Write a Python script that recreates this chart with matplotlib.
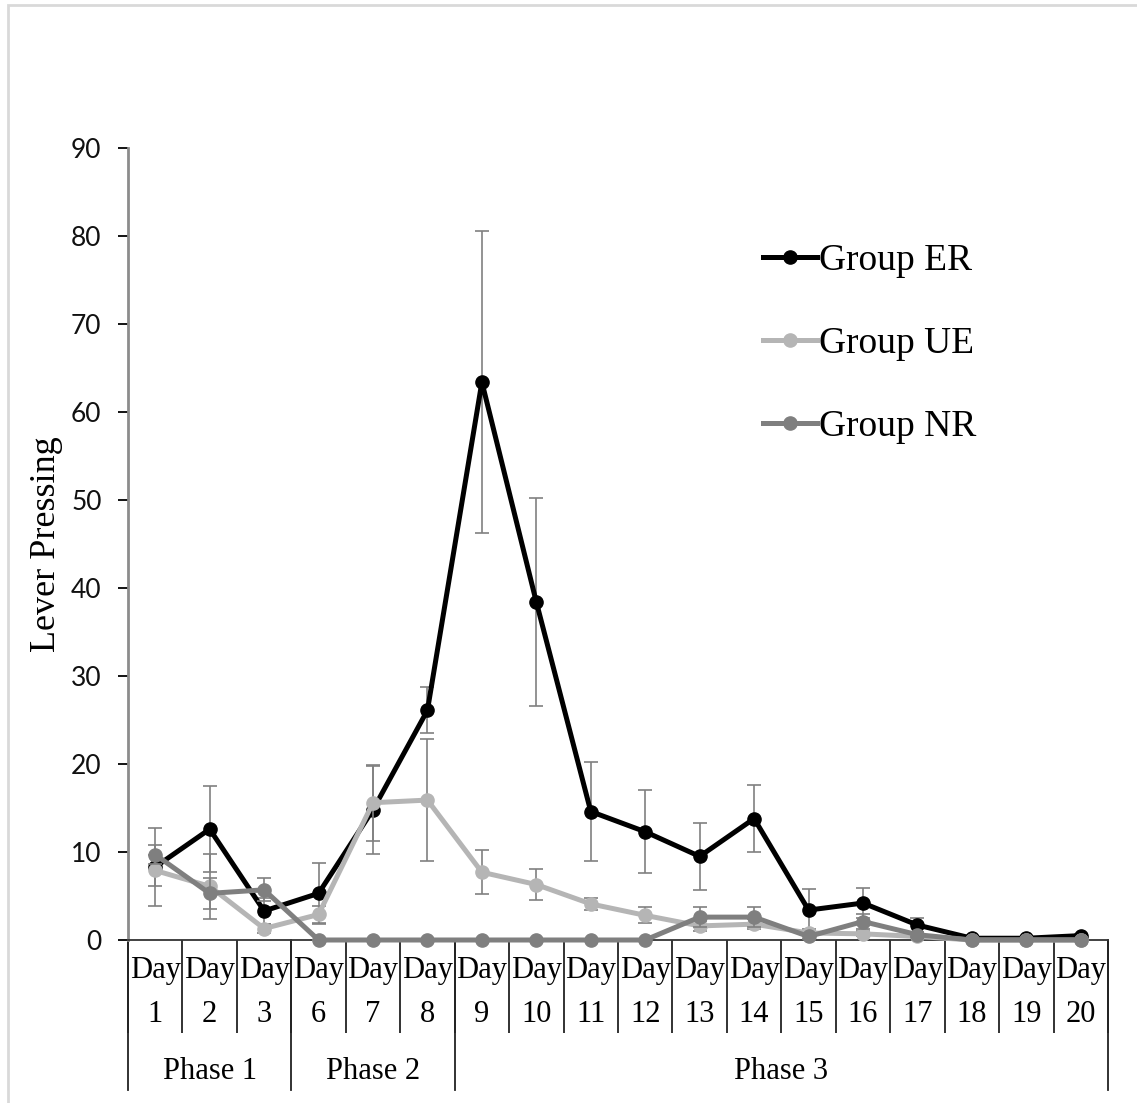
import numpy as np
import matplotlib
matplotlib.use("Agg")
import matplotlib.pyplot as plt
from matplotlib.patches import Rectangle
from matplotlib.transforms import blended_transform_factory

days = [1, 2, 3, 6, 7, 8, 9, 10, 11, 12, 13, 14, 15, 16, 17, 18, 19, 20]
phases = ["Phase 1", "Phase 2", "Phase 3"]
phase_sizes = [3, 3, 12]

er_mean = [8.3, 12.6, 3.3, 5.3, 14.8, 26.1, 63.4, 38.4, 14.6, 12.3, 9.5, 13.8, 3.4, 4.2, 1.7, 0.2, 0.2, 0.5]
er_err = [4.4, 4.9, 1.5, 3.5, 5.0, 2.6, 17.2, 11.8, 5.6, 4.7, 3.8, 3.8, 2.4, 1.7, 0.8, 0.1, 0.1, 0.2]

ue_mean = [7.9, 6.1, 1.3, 2.9, 15.6, 15.9, 7.7, 6.3, 4.1, 2.8, 1.6, 1.8, 0.8, 0.7, 0.4, 0.0, 0.0, 0.0]
ue_err = [1.8, 3.7, 0.5, 1.0, 4.3, 6.9, 2.5, 1.8, 0.7, 0.9, 0.6, 0.6, 0.4, 0.3, 0.2, 0.0, 0.0, 0.0]

nr_mean = [9.7, 5.3, 5.7, 0, 0, 0, 0, 0, 0, 0, 2.6, 2.6, 0.4, 2.1, 0.6, 0, 0, 0]
nr_err = [1.1, 1.8, 1.3, 0, 0, 0, 0, 0, 0, 0, 1.1, 1.1, 0.3, 0.8, 0.3, 0, 0, 0]

serif = "Liberation Serif"
sans = "Lato"

fig = plt.figure(figsize=(11.37, 11.03), dpi=100)
fig.patches.append(Rectangle((8 / 1137, -0.1), 1.2, 1.1 - 4.5 / 1103, transform=fig.transFigure,
                             fill=False, edgecolor="#d9d9d9", linewidth=2))
ax = fig.add_axes([128 / 1137, 163 / 1103, 980 / 1137, 792 / 1103])

x = np.arange(len(days))
series = [
    ("Group ER", er_mean, er_err, "#000000"),
    ("Group UE", ue_mean, ue_err, "#b5b5b5"),
    ("Group NR", nr_mean, nr_err, "#7f7f7f"),
]
handles = []
for z, (name, m, e, c) in enumerate(series):
    ax.errorbar(x, m, yerr=e, fmt="none", ecolor="#808080", elinewidth=1.2,
                capsize=5, capthick=1.2, zorder=2 + 2 * z, clip_on=False)
    h, = ax.plot(x, m, color=c, lw=3.6, marker="o", ms=9.5, label=name,
                 zorder=3 + 2 * z, clip_on=False)
    handles.append(h)

ax.set_xlim(-0.5, len(days) - 0.5)
ax.set_ylim(0, 90)
ax.set_yticks(range(0, 91, 10))
for s in ["top", "right"]:
    ax.spines[s].set_visible(False)
ax.spines["left"].set_color("#8c8c8c")
ax.spines["left"].set_linewidth(2)
ax.spines["bottom"].set_color("#333333")
ax.spines["bottom"].set_linewidth(1.3)

ax.tick_params(axis="y", length=7, width=1.3, color="black", pad=12,
               labelsize=19, labelcolor="#111111")
for lab in ax.get_yticklabels():
    lab.set_fontfamily(sans)

ax.set_xticks(x)
ax.set_xticklabels([])
ax.tick_params(axis="x", which="major", length=0)
ax.set_xticks(np.arange(-0.5, len(days)), minor=True)
ax.tick_params(axis="x", which="minor", length=67, width=1.3, color="#222222")

ax.set_ylabel("Lever Pressing", fontfamily=serif, fontsize=26, labelpad=6)

trans = blended_transform_factory(ax.transData, ax.transAxes)
for i, d in enumerate(days):
    ax.text(i, -0.038, "Day", transform=trans, ha="center", va="center",
            fontfamily=serif, fontsize=22)
    ax.text(i, -0.094, str(d), transform=trans, ha="center", va="center",
            fontfamily=serif, fontsize=22)

edges = np.concatenate([[0], np.cumsum(phase_sizes)]) - 0.5
for b in edges:
    ax.plot([b, b], [0, -0.189], transform=trans, color="#222222", lw=1.3, clip_on=False)
for p, a, b in zip(phases, edges[:-1], edges[1:]):
    ax.text((a + b) / 2, -0.166, p, transform=trans, ha="center", va="center",
            fontfamily=serif, fontsize=22)

ax.legend(handles=handles, loc="upper left", bbox_to_anchor=(748 / 1137, 1 - 229 / 1103),
          bbox_transform=fig.transFigure, frameon=False, handlelength=1.45,
          handletextpad=0.05, labelspacing=1.29, borderaxespad=0,
          prop={"family": serif, "size": 27})

fig.savefig("out.png", dpi=100)
